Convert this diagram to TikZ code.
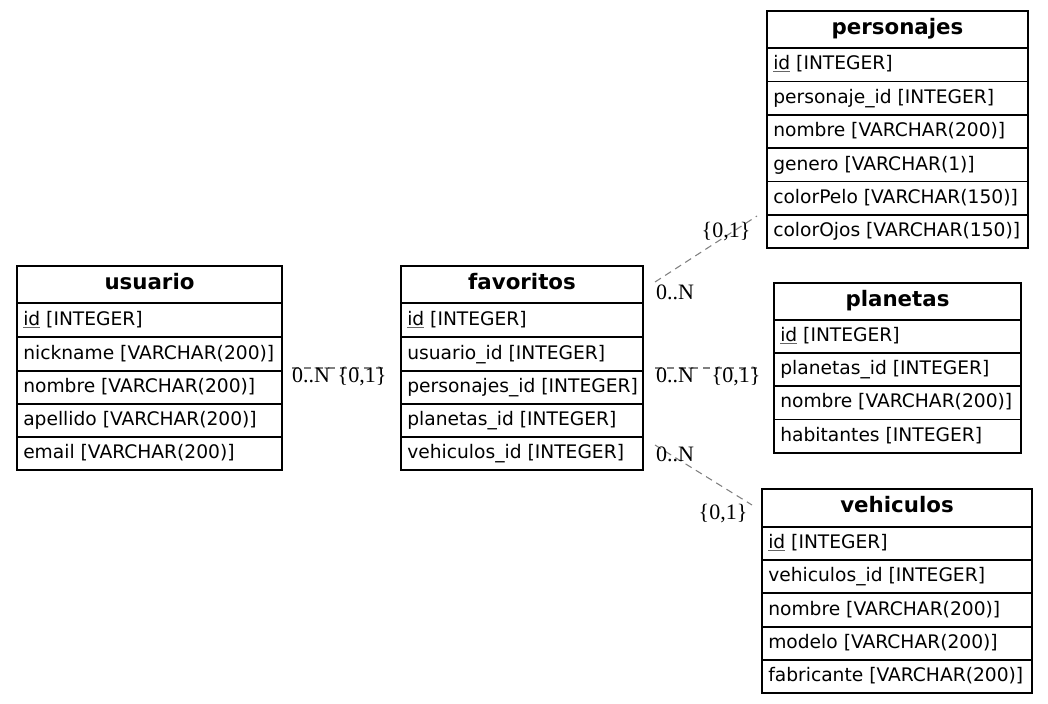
\documentclass[tikz,border=0pt]{standalone}
\usepackage{fontspec}
\setmainfont{DejaVu Sans}
\newfontfamily\lblfont{Liberation Serif}
\newcommand{\idu}[1]{{\color{black!60}\underline{\color{black}#1}}}
\begin{document}
\begin{tikzpicture}[x=0.75pt,y=-0.75pt,
  tbl/.style={draw=black, line width=1.0pt},
  cell/.style={anchor=base west, inner sep=0pt, font=\fontsize{14}{16}\selectfont},
  hdr/.style={anchor=base, inner sep=0pt, font=\fontsize{16}{18}\selectfont\bfseries},
  lbl/.style={anchor=base, inner sep=0pt, font=\lblfont\fontsize{16.5}{18}\selectfont},
  rel/.style={draw=gray, dash pattern=on 5.25pt off 3.75pt, line width=0.8pt}]
\useasboundingbox (0,0) rectangle (1048,703);

% usuario
\draw[tbl] (17,266) rectangle (282,470);
\foreach \y in {303,337,371,404,437} \draw[tbl] (17,\y) -- (282,\y);
\node[hdr] (usuario) at (149.5,289) {usuario};
\node[cell] (usuario-id) at (23,325) {\idu{id} [INTEGER]};
\node[cell] (usuario-nickname) at (23,359) {nickname [VARCHAR(200)]};
\node[cell] (usuario-nombre) at (23,392) {nombre [VARCHAR(200)]};
\node[cell] (usuario-apellido) at (23,425) {apellido [VARCHAR(200)]};
\node[cell] (usuario-email) at (23,458) {email [VARCHAR(200)]};

% favoritos
\draw[tbl] (401,266) rectangle (643,470);
\foreach \y in {303,337,371,404,437} \draw[tbl] (401,\y) -- (643,\y);
\node[hdr] (favoritos) at (522,289) {favoritos};
\node[cell] (fav-id) at (407,325) {\idu{id} [INTEGER]};
\node[cell] (fav-usuario) at (407,359) {usuario\_id [INTEGER]};
\node[cell] (fav-personajes) at (407,392) {personajes\_id [INTEGER]};
\node[cell] (fav-planetas) at (407,425) {planetas\_id [INTEGER]};
\node[cell] (fav-vehiculos) at (407,458) {vehiculos\_id [INTEGER]};

% personajes
\draw[tbl] (767,11) rectangle (1028,248);
\foreach \y in {48,81.5,115,148,181.5,215} \draw[tbl] (767,\y) -- (1028,\y);
\node[hdr] (personajes) at (897.5,34) {personajes};
\node[cell] (per-id) at (773,69) {\idu{id} [INTEGER]};
\node[cell] (per-pid) at (773,103) {personaje\_id [INTEGER]};
\node[cell] (per-nombre) at (773,136) {nombre [VARCHAR(200)]};
\node[cell] (per-genero) at (773,170) {genero [VARCHAR(1)]};
\node[cell] (per-pelo) at (773,203) {colorPelo [VARCHAR(150)]};
\node[cell] (per-ojos) at (773,236) {colorOjos [VARCHAR(150)]};

% planetas
\draw[tbl] (774,283) rectangle (1021,453);
\foreach \y in {320,353,386,419.5} \draw[tbl] (774,\y) -- (1021,\y);
\node[hdr] (planetas) at (897.5,306) {planetas};
\node[cell] (pla-id) at (780,341) {\idu{id} [INTEGER]};
\node[cell] (pla-pid) at (780,374) {planetas\_id [INTEGER]};
\node[cell] (pla-nombre) at (780,407) {nombre [VARCHAR(200)]};
\node[cell] (pla-hab) at (780,441) {habitantes [INTEGER]};

% vehiculos
\draw[tbl] (762,489) rectangle (1032,693);
\foreach \y in {527,560,593,627,660} \draw[tbl] (762,\y) -- (1032,\y);
\node[hdr] (vehiculos) at (897,512) {vehiculos};
\node[cell] (veh-id) at (768,548) {\idu{id} [INTEGER]};
\node[cell] (veh-vid) at (768,581) {vehiculos\_id [INTEGER]};
\node[cell] (veh-nombre) at (768,615) {nombre [VARCHAR(200)]};
\node[cell] (veh-modelo) at (768,648) {modelo [VARCHAR(200)]};
\node[cell] (veh-fab) at (768,681) {fabricante [VARCHAR(200)]};

% connectors
\coordinate (u-out) at (292,368);
\coordinate (f-in) at (387,368);
\draw[rel] (u-out) -- (f-in);
\node[lbl] (l1a) at (311,382) {0..N};
\node[lbl] (l1b) at (362,382) {\{0,1\}};

\coordinate (f-per) at (655,282);
\coordinate (per-in) at (757,216);
\draw[rel] (f-per) -- (per-in);
\node[lbl] (l2a) at (675,299) {0..N};
\node[lbl] (l2b) at (726,237) {\{0,1\}};

\coordinate (f-pla) at (655,368);
\coordinate (pla-in) at (757,368);
\draw[rel] (f-pla) -- (pla-in);
\node[lbl] (l3a) at (675,382) {0..N};
\node[lbl] (l3b) at (736,382) {\{0,1\}};

\coordinate (f-veh) at (655,445);
\coordinate (veh-in) at (752,505);
\draw[rel] (f-veh) -- (veh-in);
\node[lbl] (l4a) at (675,461) {0..N};
\node[lbl] (l4b) at (723,519) {\{0,1\}};
\end{tikzpicture}
\end{document}
